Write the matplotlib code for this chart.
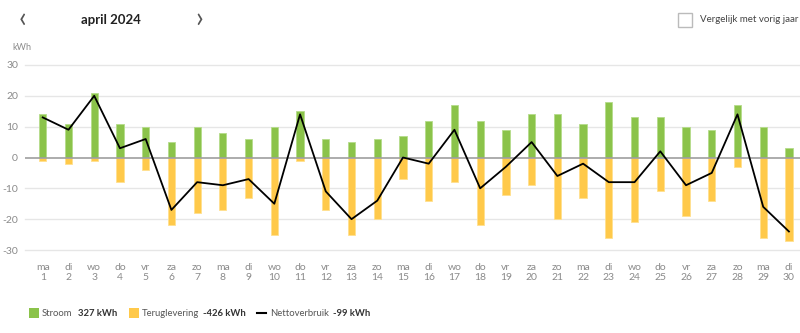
import matplotlib
matplotlib.use('Agg')
import matplotlib.pyplot as plt
from matplotlib.patches import Rectangle
from matplotlib.lines import Line2D

plt.rcParams['font.family'] = ['Lato', 'DejaVu Sans']

days = list(range(1, 31))
weekdays = ['ma', 'di', 'wo', 'do', 'vr', 'za', 'zo'] * 5
weekdays = weekdays[:30]
stroom = [14, 11, 21, 11, 10, 5, 10, 8, 6, 10, 15, 6, 5, 6, 7,
          12, 17, 12, 9, 14, 14, 11, 18, 13, 13, 10, 9, 17, 10, 3]
teruglevering = [-1, -2, -1, -8, -4, -22, -18, -17, -13, -25, -1, -17, -25, -20, -7,
                 -14, -8, -22, -12, -9, -20, -13, -26, -21, -11, -19, -14, -3, -26, -27]
netto = [13, 9, 20, 3, 6, -17, -8, -9, -7, -15, 14, -11, -20, -14, 0,
         -2, 9, -10, -3, 5, -6, -2, -8, -8, 2, -9, -5, 14, -16, -24]
yticks = [-30, -20, -10, 0, 10, 20, 30]

GREEN = '#8BC34A'
YELLOW = '#FFC94A'
GREY = '#8a8a8a'

fig = plt.figure(figsize=(8, 3.33), dpi=100)
ax = fig.add_axes([25 / 800, 1 - 250 / 333, 775 / 800, 185 / 333])

ax.bar(days, stroom, width=0.28, color=GREEN, edgecolor='#b5dc8a', linewidth=0.6, zorder=2)
ax.bar(days, teruglevering, width=0.28, color=YELLOW, edgecolor='#ffe08f', linewidth=0.6, zorder=2)
ax.plot(days, netto, color='black', linewidth=1.3, zorder=4)

ax.set_xlim(0.31, 30.43)
ax.set_ylim(-30, 30)
for t in yticks:
    if t == 0:
        ax.axhline(0, color='#9e9e9e', linewidth=1.2, zorder=3)
    else:
        ax.axhline(t, color='#e6e6e6', linewidth=1, zorder=1, clip_on=False)

ax.set_yticks(yticks)
ax.set_yticklabels([str(t) for t in yticks], fontsize=7.5, color=GREY)
ax.set_xticks(days)
ax.set_xticklabels([f'{w}\n{d}' for w, d in zip(weekdays, days)], fontsize=7.5,
                   color=GREY, linespacing=1.15)
ax.tick_params(length=0)
ax.tick_params(axis='y', pad=5)
ax.tick_params(axis='x', pad=9)
for s in ax.spines.values():
    s.set_visible(False)

# header
fig.text(12 / 800, 1 - 48 / 333, 'kWh', fontsize=6.5, color=GREY, va='center')
fig.text(22 / 800, 1 - 19 / 333, '‹', fontsize=20, color='#555555', va='center', ha='center')
fig.text(111 / 800, 1 - 20 / 333, 'april 2024', fontsize=9.5, fontweight='bold',
         color='#222222', va='center', ha='center')
fig.text(199 / 800, 1 - 19 / 333, '›', fontsize=20, color='#555555', va='center', ha='center')
fig.patches.append(Rectangle((678 / 800, 1 - 27 / 333), 14 / 800, 14 / 333,
                             transform=fig.transFigure, facecolor='white',
                             edgecolor='#bbbbbb', linewidth=1))
fig.text(700 / 800, 1 - 20 / 333, 'Vergelijk met vorig jaar', fontsize=7,
         color='#444444', va='center')

# legend
ly = 1 - 313 / 333
fs = 6.8
fig.patches.append(Rectangle((29 / 800, ly - 5 / 333), 10 / 800, 10 / 333,
                             transform=fig.transFigure, facecolor=GREEN, edgecolor='none'))
fig.text(42 / 800, ly, 'Stroom', fontsize=fs, color='#555555', va='center')
fig.text(78 / 800, ly, '327 kWh', fontsize=fs, fontweight='bold', color='#333333', va='center')
fig.patches.append(Rectangle((129 / 800, ly - 5 / 333), 10 / 800, 10 / 333,
                             transform=fig.transFigure, facecolor=YELLOW, edgecolor='none'))
fig.text(142 / 800, ly, 'Teruglevering', fontsize=fs, color='#555555', va='center')
fig.text(203 / 800, ly, '-426 kWh', fontsize=fs, fontweight='bold', color='#333333', va='center')
fig.lines.append(Line2D([257 / 800, 266 / 800], [ly, ly], transform=fig.transFigure,
                        color='black', linewidth=1.5))
fig.text(270 / 800, ly, 'Nettoverbruik', fontsize=fs, color='#555555', va='center')
fig.text(333 / 800, ly, '-99 kWh', fontsize=fs, fontweight='bold', color='#333333', va='center')

fig.savefig('out.png', dpi=100)
